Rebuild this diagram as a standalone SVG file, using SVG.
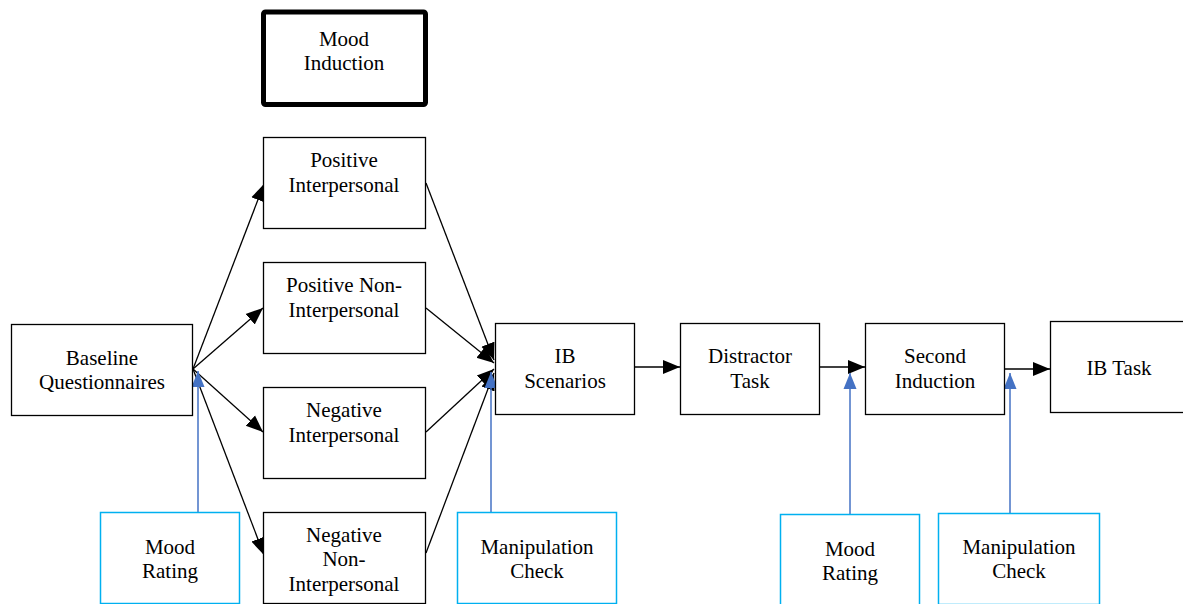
<svg xmlns="http://www.w3.org/2000/svg" width="1183" height="604" viewBox="0 0 1183 604">
<style>
.box{fill:#fff;stroke:#000;stroke-width:1.3}
.thick{fill:#fff;stroke:#000;stroke-width:5}
.cyan{fill:#fff;stroke:#00B0F0;stroke-width:1.5}
.t{font-family:"Liberation Serif","Times New Roman",serif;font-size:21px;fill:#000;text-anchor:middle}
.c{fill:none;stroke:#000;stroke-width:1.3}
.b{fill:none;stroke:#4472C4;stroke-width:1.5}
</style>
<defs>
<marker id="ah" markerUnits="userSpaceOnUse" markerWidth="18" markerHeight="16" refX="17" refY="8" orient="auto">
<path d="M0,1 L17,8 L0,15 Z" fill="#000"/>
</marker>
<marker id="bh" markerUnits="userSpaceOnUse" markerWidth="18" markerHeight="16" refX="16" refY="8" orient="auto">
<path d="M0,1.5 L16,8 L0,14.5 Z" fill="#4472C4"/>
</marker>
</defs>
<g id="connectors">
<line class="c" x1="193" y1="369" x2="264" y2="184" marker-end="url(#ah)"/>
<line class="c" x1="193" y1="369" x2="263" y2="308" marker-end="url(#ah)"/>
<line class="c" x1="193" y1="369" x2="263" y2="432" marker-end="url(#ah)"/>
<line class="c" x1="193" y1="369" x2="264" y2="555" marker-end="url(#ah)"/>
<line class="c" x1="426" y1="183" x2="494" y2="360" marker-end="url(#ah)"/>
<line class="c" x1="426" y1="308" x2="494" y2="363" marker-end="url(#ah)"/>
<line class="c" x1="426" y1="432" x2="494" y2="369" marker-end="url(#ah)"/>
<line class="c" x1="426" y1="553" x2="494" y2="373" marker-end="url(#ah)"/>
<line class="c" x1="634" y1="367" x2="680" y2="367" marker-end="url(#ah)"/>
<line class="c" x1="819" y1="367" x2="865" y2="367" marker-end="url(#ah)"/>
<line class="c" x1="1004" y1="369" x2="1050" y2="369" marker-end="url(#ah)"/>
<line class="b" x1="198" y1="512" x2="198" y2="371" marker-end="url(#bh)"/>
<line class="b" x1="491" y1="512" x2="491" y2="372" marker-end="url(#bh)"/>
<line class="b" x1="850" y1="514" x2="850" y2="373" marker-end="url(#bh)"/>
<line class="b" x1="1010" y1="514" x2="1010" y2="373" marker-end="url(#bh)"/>
</g>
<g id="mood-induction">
<rect class="thick" x="263.5" y="12" width="162" height="92.5" rx="2"/>
<text class="t" x="344" y="46">Mood</text>
<text class="t" x="344" y="70">Induction</text>
</g>
<g id="positive-interpersonal">
<rect class="box" x="263.5" y="137.5" width="162" height="91"/>
<text class="t" x="344" y="167">Positive</text>
<text class="t" x="344" y="192">Interpersonal</text>
</g>
<g id="positive-non-interpersonal">
<rect class="box" x="263.5" y="262.5" width="162" height="91"/>
<text class="t" x="344" y="292">Positive Non-</text>
<text class="t" x="344" y="317">Interpersonal</text>
</g>
<g id="negative-interpersonal">
<rect class="box" x="263.5" y="387.5" width="162" height="91"/>
<text class="t" x="344" y="417">Negative</text>
<text class="t" x="344" y="442">Interpersonal</text>
</g>
<g id="negative-non-interpersonal">
<rect class="box" x="263.5" y="512.5" width="162" height="91"/>
<text class="t" x="344" y="542">Negative</text>
<text class="t" x="344" y="566">Non-</text>
<text class="t" x="344" y="591">Interpersonal</text>
</g>
<g id="baseline-questionnaires">
<rect class="box" x="11.5" y="324.5" width="181" height="91"/>
<text class="t" x="102" y="365">Baseline</text>
<text class="t" x="102" y="389">Questionnaires</text>
</g>
<g id="ib-scenarios">
<rect class="box" x="495.5" y="323.5" width="139" height="91"/>
<text class="t" x="565" y="363">IB</text>
<text class="t" x="565" y="388">Scenarios</text>
</g>
<g id="distractor-task">
<rect class="box" x="680.5" y="323.5" width="139" height="91"/>
<text class="t" x="750" y="363">Distractor</text>
<text class="t" x="750" y="388">Task</text>
</g>
<g id="second-induction">
<rect class="box" x="865.5" y="323.5" width="139" height="91"/>
<text class="t" x="935" y="363">Second</text>
<text class="t" x="935" y="388">Induction</text>
</g>
<g id="ib-task">
<rect class="box" x="1050.5" y="321.5" width="140" height="91"/>
<text class="t" x="1119" y="375">IB Task</text>
</g>
<g id="mood-rating-1">
<rect class="cyan" x="100.5" y="512.5" width="139" height="91"/>
<text class="t" x="170" y="554">Mood</text>
<text class="t" x="170" y="578">Rating</text>
</g>
<g id="manipulation-check-1">
<rect class="cyan" x="457.5" y="512.5" width="159" height="91"/>
<text class="t" x="537" y="554">Manipulation</text>
<text class="t" x="537" y="578">Check</text>
</g>
<g id="mood-rating-2">
<rect class="cyan" x="780.5" y="514.5" width="139" height="91"/>
<text class="t" x="850" y="556">Mood</text>
<text class="t" x="850" y="580">Rating</text>
</g>
<g id="manipulation-check-2">
<rect class="cyan" x="938.5" y="513.5" width="161" height="91"/>
<text class="t" x="1019" y="554">Manipulation</text>
<text class="t" x="1019" y="578">Check</text>
</g>
</svg>
